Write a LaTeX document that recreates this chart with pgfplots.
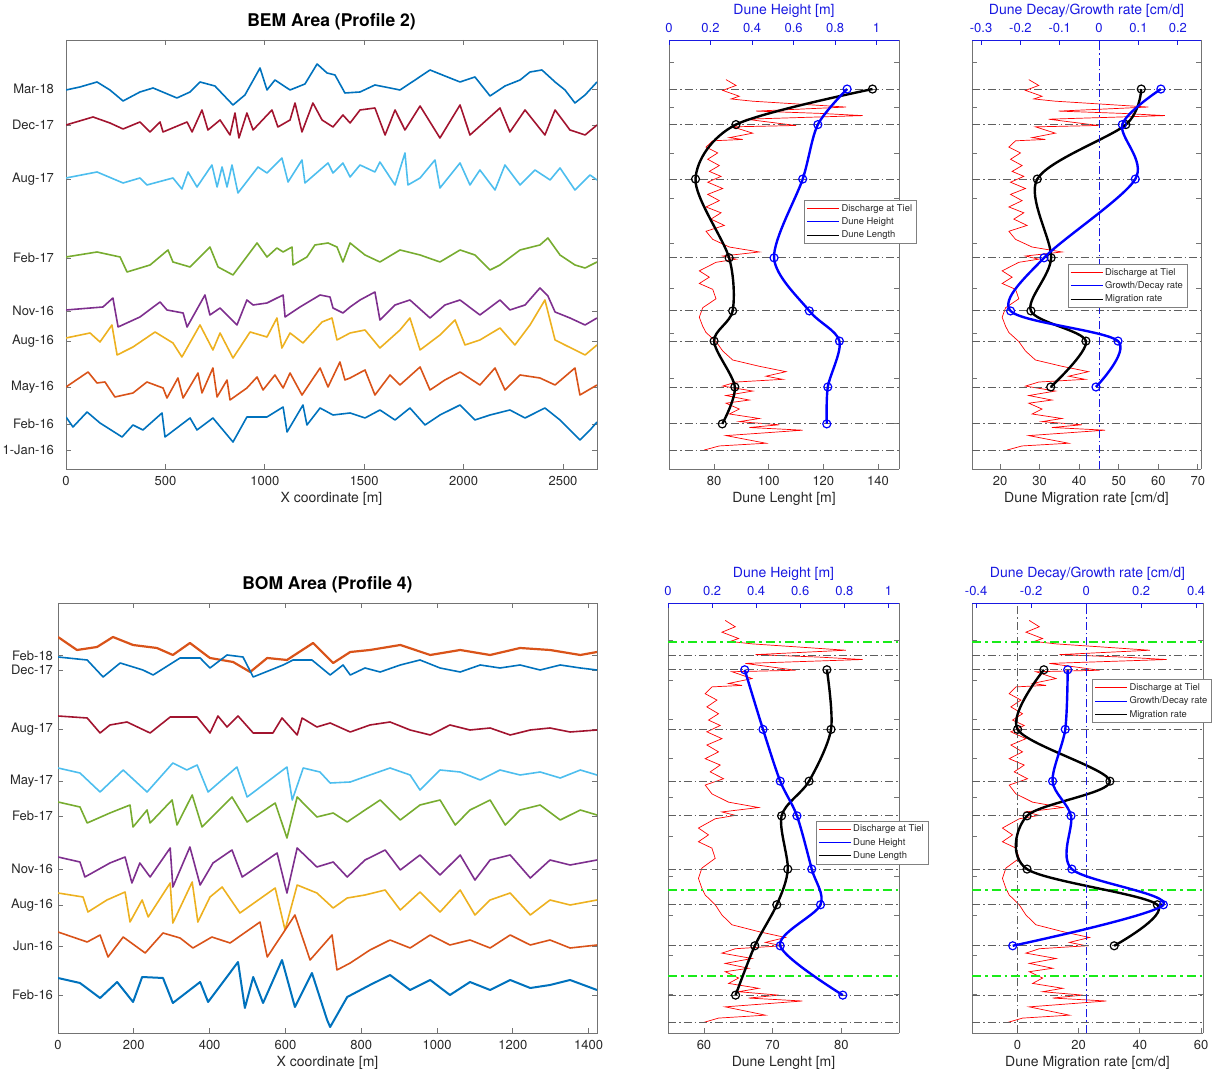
\documentclass[border=0pt]{standalone}
\usepackage{fontspec}
\setmainfont{TeX Gyre Heros}
\usepackage{pgfplots}
\pgfplotsset{compat=1.18}
\usepackage{pgfplotstable}

\definecolor{mBlue}{RGB}{0,114,189}
\definecolor{mOrange}{RGB}{217,83,25}
\definecolor{mYellow}{RGB}{237,177,32}
\definecolor{mPurple}{RGB}{126,47,142}
\definecolor{mGreen}{RGB}{119,172,48}
\definecolor{mCyan}{RGB}{77,190,238}
\definecolor{mRed}{RGB}{162,20,47}
\definecolor{axgray}{RGB}{115,115,115}
\definecolor{txtgray}{RGB}{40,40,40}
\definecolor{hgtblue}{RGB}{25,25,225}
\definecolor{dashgray}{RGB}{95,95,95}
\definecolor{flood}{RGB}{25,235,25}

% Rhine discharge at Tiel: day since 1 Jan 2016, discharge [m3/s]
\pgfplotstableread{
day Q
823 1796
810 2140
799 1683
786 2253
780 1968
775 2713
769 4200
762 5917
753 2827
748 4990
743 6491
735 2483
721 4200
718 2026
704 2713
694 1910
690 2370
687 1340
673 1110
660 1511
646 1168
632 1566
619 1223
608 1625
595 1168
581 1683
568 1168
554 1566
540 1110
527 1625
513 1281
499 1738
486 1110
468 1340
451 1910
440 2940
431 1683
424 2140
417 1453
398 879
384 1223
370 879
357 1340
336 1453
316 996
295 879
275 996
261 1110
241 1453
220 1683
200 2026
186 2940
174 3857
164 3170
157 3743
151 2140
142 1683
131 2713
121 1796
111 2597
104 1796
91 2253
80 1910
70 2940
63 2253
56 3627
50 2597
44 4430
32 1796
15 3170
9 1566
0 1051
}\discharge

\pgfplotsset{
  base/.style={
    scale only axis, anchor=south west,
    axis line style={draw=axgray, line width=0.9pt},
    tick style={draw=axgray, line width=0.9pt},
    major tick length=5pt,
    tick align=inside,
    tick label style={font=\fontsize{13}{15}\selectfont, text=txtgray},
    label style={font=\fontsize{14}{16}\selectfont, text=txtgray},
    /pgf/number format/assume math mode=true,
    /pgf/number format/1000 sep={},
  },
  botx/.style={
    xticklabel style={anchor=center, yshift=-12pt},
    xlabel style={at={(rel axis cs:0.5,0)}, anchor=center, yshift=-30pt},
  },
  topx/.style={
    axis x line*=top, axis y line=none,
    axis line style={draw=hgtblue, line width=0.9pt},
    tick style={draw=hgtblue, line width=0.9pt},
    xticklabel style={anchor=center, yshift=12pt, text=hgtblue},
    xlabel style={at={(rel axis cs:0.5,1)}, anchor=center, yshift=29pt, text=hgtblue},
  },
  leg/.style={
    legend style={font=\fontsize{9.4}{10.5}\selectfont, text=txtgray, draw=gray,
      line width=0.6pt, fill=white, inner xsep=2.5pt, inner ysep=2pt, row sep=1pt},
    legend cell align=left,
  },
  qleg/.style={legend image code/.code={\draw[draw=red, line width=0.6pt] (0pt,0pt) -- (32pt,0pt);}},
  bleg/.style={legend image code/.code={\draw[draw=blue, line width=0.8pt] (0pt,0pt) -- (32pt,0pt);}},
  kleg/.style={legend image code/.code={\draw[draw=black, line width=0.8pt] (0pt,0pt) -- (32pt,0pt);}},
  hline/.style={dashgray, line width=0.9pt, dash pattern=on 8pt off 3pt on 1.5pt off 3pt, forget plot},
  gline/.style={flood, line width=2.4pt, dash pattern=on 9pt off 4pt on 2.5pt off 4pt, forget plot},
  qline/.style={red, line width=0.7pt, forget plot},
  prof/.style={line width=1.6pt, line join=round, forget plot},
  blk/.style={black, line width=2.4pt, smooth, mark=o, mark size=4pt, mark options={line width=1.2pt, solid}},
  blu/.style={blue, line width=2.4pt, smooth, mark=o, mark size=4pt, mark options={line width=1.2pt, solid}},
}

\begin{document}
\begin{tikzpicture}
\useasboundingbox (0,0) rectangle (1214pt,1075pt);

% ---------------- BEM area, bed profiles ----------------
\begin{axis}[base, botx, at={(66pt,606pt)}, width=531pt, height=429pt,
  xmin=0, xmax=2671, ymin=0, ymax=429,
  xtick={0,500,1000,1500,2000,2500},
  ytick={19,45,82,128,158,211,290,344,380},
  yticklabels={1-Jan-16,Feb-16,May-16,Aug-16,Nov-16,Feb-17,Aug-17,Dec-17,Mar-18},
  yticklabel style={anchor=east, xshift=-8.5pt},
  title={BEM Area (Profile 2)},
  title style={at={(rel axis cs:0.5,1)}, anchor=center, yshift=12pt, font=\bfseries\fontsize{17.5}{19}\selectfont, text=black},
  xlabel={X coordinate [m]}]
\addplot[prof, mBlue] coordinates {(0,379)(70,382)(156,387)(221,379)(287,368)(372,377)(438,381)(498,376)(558,371)(624,377)(674,387)(749,383)(840,364)(900,374)(976,401)(1011,379)(1051,389)(1127,379)(1202,385)(1263,405)(1313,396)(1353,394)(1403,376)(1479,377)(1554,384)(1630,381)(1680,379)(1756,389)(1831,399)(1906,393)(1982,387)(2057,392)(2133,373)(2208,383)(2284,389)(2334,397)(2394,399)(2460,387)(2510,379)(2560,366)(2611,374)(2671,387)};
\addplot[prof, mRed] coordinates {(0,344)(136,352)(221,346)(287,340)(372,347)(423,337)(473,347)(488,337)(609,347)(634,337)(684,359)(714,339)(775,349)(825,334)(850,356)(870,331)(910,356)(941,339)(1036,359)(1066,342)(1127,349)(1152,366)(1187,337)(1242,366)(1288,349)(1343,342)(1393,354)(1429,346)(1479,359)(1554,361)(1605,334)(1655,359)(1705,339)(1781,363)(1881,331)(1982,364)(2032,334)(2183,361)(2233,337)(2309,359)(2409,334)(2460,359)(2535,339)(2611,334)(2671,344)};
\addplot[prof, mCyan] coordinates {(0,291)(156,297)(287,286)(372,291)(407,284)(538,291)(583,280)(614,297)(659,282)(734,304)(760,282)(785,302)(810,282)(835,304)(865,276)(966,302)(1011,296)(1086,311)(1117,287)(1187,309)(1202,286)(1318,306)(1343,296)(1393,306)(1429,292)(1479,304)(1554,297)(1579,307)(1655,284)(1705,316)(1720,284)(1781,291)(1856,309)(1881,281)(1982,306)(2032,284)(2082,299)(2158,279)(2208,304)(2284,284)(2359,299)(2435,289)(2485,301)(2560,279)(2636,294)(2671,289)};
\addplot[prof, mGreen] coordinates {(0,212)(156,217)(272,212)(307,197)(423,204)(513,219)(538,207)(624,202)(724,222)(765,202)(840,194)(961,226)(1011,212)(1061,221)(1092,217)(1137,222)(1142,204)(1212,212)(1252,224)(1318,226)(1363,222)(1393,207)(1429,226)(1504,214)(1579,207)(1680,219)(1781,214)(1881,207)(1982,219)(2057,214)(2133,199)(2183,204)(2284,219)(2384,224)(2424,231)(2485,214)(2560,204)(2611,201)(2671,207)};
\addplot[prof, mPurple] coordinates {(0,159)(186,162)(236,171)(262,142)(372,152)(473,167)(508,159)(589,156)(609,142)(699,174)(724,154)(775,161)(860,144)(910,169)(941,164)(1011,166)(1092,174)(1102,152)(1177,162)(1278,174)(1328,172)(1343,161)(1393,156)(1429,162)(1479,169)(1554,177)(1579,149)(1655,164)(1730,169)(1831,151)(1906,164)(1982,169)(2082,154)(2183,169)(2233,159)(2309,164)(2384,181)(2424,173)(2460,157)(2535,151)(2611,144)(2671,151)};
\addplot[prof, mYellow] coordinates {(0,131)(121,136)(171,127)(231,144)(257,114)(307,119)(337,122)(448,137)(538,126)(583,112)(674,144)(739,119)(775,136)(840,111)(926,137)(1011,132)(1061,151)(1086,121)(1127,136)(1192,126)(1288,147)(1338,151)(1363,129)(1429,136)(1504,139)(1579,121)(1680,139)(1730,151)(1781,119)(1881,134)(1957,149)(2007,124)(2082,129)(2183,141)(2258,124)(2334,144)(2409,169)(2460,129)(2510,124)(2611,114)(2671,124)};
\addplot[prof, mOrange] coordinates {(0,82)(111,97)(156,86)(196,87)(246,72)(337,76)(407,87)(488,81)(508,71)(563,91)(589,71)(664,96)(684,76)(739,101)(760,72)(810,89)(825,69)(910,81)(961,92)(991,79)(1051,94)(1092,81)(1127,96)(1187,74)(1278,101)(1318,82)(1378,107)(1403,89)(1429,91)(1504,99)(1554,74)(1630,94)(1680,84)(1781,102)(1831,79)(1906,89)(1982,97)(2082,84)(2158,101)(2208,79)(2284,94)(2384,91)(2460,84)(2560,101)(2585,74)(2671,84)};
\addplot[prof, mBlue] coordinates {(0,52)(35,42)(106,57)(171,46)(282,32)(337,44)(387,39)(483,56)(498,32)(624,51)(659,39)(739,51)(840,27)(910,52)(1011,52)(1092,62)(1112,37)(1192,64)(1212,44)(1278,61)(1343,54)(1429,56)(1504,51)(1579,59)(1655,49)(1730,61)(1806,44)(1881,54)(1982,64)(2057,49)(2133,54)(2233,59)(2309,51)(2409,61)(2485,49)(2535,39)(2585,29)(2636,39)(2671,47)};
\end{axis}

% ---------------- BEM area, dune length / height ----------------
\begin{axis}[base, at={(669pt,606pt)}, width=230pt, height=429pt, hide axis,
  xmin=-161, xmax=7737, ymin=-42.2, ymax=911]
\addplot[qline] table[x=Q, y=day] {\discharge};
\end{axis}
\begin{axis}[base, botx, at={(669pt,606pt)}, width=230pt, height=429pt,
  xmin=63.5, xmax=147.7, ymin=-42.2, ymax=911,
  axis x line*=bottom, xtick={80,100,120,140},
  ytick={60,160,260,360,460,560,660,760,860}, yticklabels={},
  xlabel={Dune Lenght [m]}]
\addplot[hline] coordinates {(63.5,0)(147.7,0)};
\addplot[hline] coordinates {(63.5,58)(147.7,58)};
\addplot[hline] coordinates {(63.5,140)(147.7,140)};
\addplot[hline] coordinates {(63.5,242)(147.7,242)};
\addplot[hline] coordinates {(63.5,309)(147.7,309)};
\addplot[hline] coordinates {(63.5,427)(147.7,427)};
\addplot[hline] coordinates {(63.5,602)(147.7,602)};
\addplot[hline] coordinates {(63.5,723)(147.7,723)};
\addplot[hline] coordinates {(63.5,802)(147.7,802)};
\addplot[blk] coordinates {(138,802)(88,723)(73.2,602)(85.5,427)(86.8,309)(80,242)(87.6,140)(83,58)};
\end{axis}
\begin{axis}[base, topx, leg, at={(669pt,606pt)}, width=230pt, height=429pt,
  xmin=0, xmax=1.108, ymin=-42.2, ymax=911,
  xtick={0,0.2,0.4,0.6,0.8,1},
  xlabel={Dune Height [m]},
  legend style={at={(rel axis cs:0.587,0.627)}, anchor=north west}]
\addplot[blu, forget plot] coordinates {(0.858,802)(0.717,723)(0.644,602)(0.506,427)(0.676,309)(0.821,242)(0.765,140)(0.76,58)};
\addlegendimage{qleg}
\addlegendimage{bleg}
\addlegendimage{kleg}
\legend{Discharge at Tiel, Dune Height, Dune Length}
\end{axis}

% ---------------- BEM area, migration / growth ----------------
\begin{axis}[base, at={(972pt,606pt)}, width=229pt, height=429pt, hide axis,
  xmin=-161, xmax=7737, ymin=-42.2, ymax=911]
\addplot[qline] table[x=Q, y=day] {\discharge};
\end{axis}
\begin{axis}[base, botx, at={(972pt,606pt)}, width=229pt, height=429pt,
  xmin=12.9, xmax=70.8, ymin=-42.2, ymax=911,
  axis x line*=bottom, xtick={20,30,40,50,60,70},
  ytick={60,160,260,360,460,560,660,760,860}, yticklabels={},
  xlabel={Dune Migration rate [cm/d]}]
\addplot[hline] coordinates {(12.9,0)(70.8,0)};
\addplot[hline] coordinates {(12.9,58)(70.8,58)};
\addplot[hline] coordinates {(12.9,140)(70.8,140)};
\addplot[hline] coordinates {(12.9,242)(70.8,242)};
\addplot[hline] coordinates {(12.9,309)(70.8,309)};
\addplot[hline] coordinates {(12.9,427)(70.8,427)};
\addplot[hline] coordinates {(12.9,602)(70.8,602)};
\addplot[hline] coordinates {(12.9,723)(70.8,723)};
\addplot[hline] coordinates {(12.9,802)(70.8,802)};
\addplot[blk] coordinates {(55.7,802)(51.8,723)(29.4,602)(32.9,427)(27.8,309)(41.7,242)(32.8,140)};
\end{axis}
\begin{axis}[base, topx, leg, at={(972pt,606pt)}, width=229pt, height=429pt,
  xmin=-0.323, xmax=0.259, ymin=-42.2, ymax=911,
  xtick={-0.3,-0.2,-0.1,0,0.1,0.2},
  xlabel={Dune Decay/Growth rate [cm/d]},
  legend style={at={(rel axis cs:0.417,0.478)}, anchor=north west}]
\addplot[hgtblue, line width=0.8pt, dash pattern=on 8pt off 3pt on 1.5pt off 3pt, forget plot] coordinates {(0,-42.2)(0,911)};
\addplot[blu, forget plot] coordinates {(0.157,802)(0.059,723)(0.092,602)(-0.14,427)(-0.225,309)(0.048,242)(-0.008,140)};
\addlegendimage{qleg}
\addlegendimage{bleg}
\addlegendimage{kleg}
\legend{Discharge at Tiel, Growth/Decay rate, Migration rate}
\end{axis}

% ---------------- BOM area, bed profiles ----------------
\begin{axis}[base, botx, at={(58pt,42pt)}, width=539pt, height=430pt,
  xmin=0, xmax=1422, ymin=0, ymax=430,
  xtick={0,200,400,600,800,1000,1200,1400},
  ytick={38,87,128,163.7,217,252,303.7,363,377.3},
  yticklabels={Feb-16,Jun-16,Aug-16,Nov-16,Feb-17,May-17,Aug-17,Dec-17,Feb-18},
  yticklabel style={anchor=east, xshift=-1.5pt},
  title={BOM Area (Profile 4)},
  title style={at={(rel axis cs:0.5,1)}, anchor=center, yshift=12pt, font=\bfseries\fontsize{17.5}{19}\selectfont, text=black},
  xlabel={X coordinate [m]}]
\addplot[prof, mOrange, line width=2.2pt] coordinates {(0,396)(50,383)(103,386)(145,396)(198,388)(261,385)(303,378)(348,390)(401,375)(462,371)(507,361)(552,375)(604,373)(673,390)(726,370)(771,381)(823,383)(903,388)(982,378)(1061,383)(1140,378)(1219,385)(1298,383)(1378,378)(1422,381)};
\addplot[prof, mBlue] coordinates {(0,376)(77,373)(119,356)(164,370)(224,363)(251,358)(322,375)(375,375)(401,365)(446,378)(488,376)(515,356)(594,368)(620,373)(670,373)(718,358)(752,368)(771,358)(810,365)(850,361)(903,368)(955,373)(1008,365)(1061,361)(1114,368)(1166,365)(1219,368)(1272,363)(1325,368)(1378,365)(1422,363)};
\addplot[prof, mRed] coordinates {(0,317)(77,315)(111,300)(137,308)(182,311)(243,300)(296,316)(367,316)(401,300)(422,317)(446,306)(475,317)(515,300)(567,300)(591,315)(631,298)(644,315)(683,306)(718,310)(771,301)(823,308)(876,311)(929,303)(982,298)(1034,308)(1087,303)(1140,305)(1193,298)(1246,303)(1298,305)(1351,301)(1422,303)};
\addplot[prof, mCyan] coordinates {(0,265)(58,260)(111,241)(172,263)(235,241)(303,270)(340,263)(367,268)(396,241)(472,266)(499,236)(604,266)(618,233)(647,265)(691,261)(718,250)(771,251)(823,258)(876,265)(929,258)(955,243)(1008,263)(1061,261)(1114,253)(1166,263)(1219,258)(1272,261)(1325,255)(1378,263)(1422,258)};
\addplot[prof, mGreen] coordinates {(0,231)(58,226)(77,210)(137,220)(190,228)(198,206)(235,223)(243,210)(301,233)(314,208)(354,238)(380,206)(459,236)(499,211)(573,230)(604,195)(631,236)(683,216)(726,220)(763,211)(810,223)(850,233)(903,213)(955,228)(1008,233)(1048,208)(1087,223)(1140,233)(1180,208)(1219,223)(1272,228)(1325,213)(1378,223)(1422,218)};
\addplot[prof, mPurple] coordinates {(0,176)(58,171)(71,156)(137,170)(177,176)(195,150)(216,170)(243,156)(296,185)(303,146)(348,186)(375,148)(409,170)(459,183)(486,156)(578,180)(604,140)(631,185)(683,166)(726,171)(763,156)(810,173)(863,183)(903,163)(955,178)(1008,158)(1061,178)(1100,153)(1140,173)(1193,178)(1246,155)(1298,173)(1351,168)(1422,173)};
\addplot[prof, mYellow] coordinates {(0,140)(66,136)(79,121)(129,133)(177,141)(190,111)(222,133)(238,116)(296,150)(303,110)(354,151)(369,111)(401,136)(433,146)(480,120)(573,145)(599,103)(631,148)(683,140)(726,125)(763,135)(810,138)(863,143)(903,123)(955,141)(1008,121)(1061,143)(1100,118)(1140,133)(1193,140)(1246,118)(1298,133)(1351,128)(1422,133)};
\addplot[prof, mOrange] coordinates {(0,101)(77,91)(111,98)(132,76)(172,96)(230,80)(277,100)(322,95)(356,85)(406,96)(454,90)(533,111)(552,76)(594,100)(625,118)(665,73)(723,98)(736,63)(771,70)(823,83)(876,93)(929,85)(982,98)(1034,88)(1087,93)(1140,85)(1193,98)(1246,88)(1298,93)(1351,85)(1422,88)};
\addplot[prof, mBlue, line width=2pt] coordinates {(0,55)(58,50)(111,35)(156,51)(198,31)(222,56)(277,55)(303,30)(375,51)(396,31)(475,71)(493,25)(515,56)(541,30)(591,73)(625,26)(670,60)(710,13)(718,6)(763,36)(823,48)(876,58)(929,43)(982,53)(1034,38)(1087,51)(1140,43)(1193,53)(1246,45)(1298,48)(1351,53)(1422,43)};
\end{axis}

% ---------------- BOM area, dune length / height ----------------
\begin{axis}[base, at={(668pt,42pt)}, width=231pt, height=430pt, hide axis,
  xmin=-161, xmax=7737, ymin=-21.5, ymax=858.7]
\addplot[qline] table[x=Q, y=day] {\discharge};
\end{axis}
\begin{axis}[base, botx, at={(668pt,42pt)}, width=231pt, height=430pt,
  xmin=54.76, xmax=88.4, ymin=-21.5, ymax=858.7,
  axis x line*=bottom, xtick={60,70,80},
  ytick={58,138,219,299,380,460,540,621,701,782}, yticklabels={},
  xlabel={Dune Lenght [m]}]
\addplot[hline] coordinates {(54.76,0)(88.4,0)};
\addplot[hline] coordinates {(54.76,56)(88.4,56)};
\addplot[hline] coordinates {(54.76,157)(88.4,157)};
\addplot[hline] coordinates {(54.76,241)(88.4,241)};
\addplot[hline] coordinates {(54.76,314)(88.4,314)};
\addplot[hline] coordinates {(54.76,423)(88.4,423)};
\addplot[hline] coordinates {(54.76,494)(88.4,494)};
\addplot[hline] coordinates {(54.76,600)(88.4,600)};
\addplot[hline] coordinates {(54.76,722)(88.4,722)};
\addplot[hline] coordinates {(54.76,751)(88.4,751)};
\addplot[gline] coordinates {(54.76,95)(88.4,95)};
\addplot[gline] coordinates {(54.76,271)(88.4,271)};
\addplot[gline] coordinates {(54.76,779)(88.4,779)};
\addplot[blk] coordinates {(77.9,722)(78.5,600)(75.3,494)(71.3,423)(72.2,314)(70.6,241)(67.4,157)(64.6,56)};
\end{axis}
\begin{axis}[base, topx, leg, at={(668pt,42pt)}, width=231pt, height=430pt,
  xmin=0, xmax=1.048, ymin=-21.5, ymax=858.7,
  xtick={0,0.2,0.4,0.6,0.8,1},
  xlabel={Dune Height [m]},
  legend style={at={(rel axis cs:0.639,0.494)}, anchor=north west}]
\addplot[blu, forget plot] coordinates {(0.348,722)(0.431,600)(0.509,494)(0.585,423)(0.652,314)(0.692,241)(0.509,157)(0.793,56)};
\addlegendimage{qleg}
\addlegendimage{bleg}
\addlegendimage{kleg}
\legend{Discharge at Tiel, Dune Height, Dune Length}
\end{axis}

% ---------------- BOM area, migration / growth ----------------
\begin{axis}[base, at={(972pt,42pt)}, width=231pt, height=430pt, hide axis,
  xmin=-161, xmax=7737, ymin=-21.5, ymax=858.7]
\addplot[qline] table[x=Q, y=day] {\discharge};
\end{axis}
\begin{axis}[base, botx, at={(972pt,42pt)}, width=231pt, height=430pt,
  xmin=-14.9, xmax=60.65, ymin=-21.5, ymax=858.7,
  axis x line*=bottom, xtick={0,20,40,60},
  ytick={58,138,219,299,380,460,540,621,701,782}, yticklabels={},
  xlabel={Dune Migration rate [cm/d]}]
\addplot[hline] coordinates {(-14.9,0)(60.65,0)};
\addplot[hline] coordinates {(-14.9,56)(60.65,56)};
\addplot[hline] coordinates {(-14.9,157)(60.65,157)};
\addplot[hline] coordinates {(-14.9,241)(60.65,241)};
\addplot[hline] coordinates {(-14.9,314)(60.65,314)};
\addplot[hline] coordinates {(-14.9,423)(60.65,423)};
\addplot[hline] coordinates {(-14.9,494)(60.65,494)};
\addplot[hline] coordinates {(-14.9,600)(60.65,600)};
\addplot[hline] coordinates {(-14.9,722)(60.65,722)};
\addplot[hline] coordinates {(-14.9,751)(60.65,751)};
\addplot[hline] coordinates {(0,-21.5)(0,858.7)};
\addplot[gline] coordinates {(-14.9,95)(60.65,95)};
\addplot[gline] coordinates {(-14.9,271)(60.65,271)};
\addplot[gline] coordinates {(-14.9,779)(60.65,779)};
\addplot[blk] coordinates {(8.6,722)(0,600)(30.2,494)(3.1,423)(3.1,314)(45.7,241)(31.6,157)};
\end{axis}
\begin{axis}[base, topx, leg, at={(972pt,42pt)}, width=231pt, height=430pt,
  xmin=-0.415, xmax=0.425, ymin=-21.5, ymax=858.7,
  xtick={-0.4,-0.2,0,0.2,0.4},
  xlabel={Dune Decay/Growth rate [cm/d]},
  legend style={at={(rel axis cs:0.519,0.823)}, anchor=north west}]
\addplot[hgtblue, line width=0.8pt, dash pattern=on 8pt off 3pt on 1.5pt off 3pt, forget plot] coordinates {(0,-21.5)(0,858.7)};
\addplot[blu, forget plot] coordinates {(-0.067,722)(-0.076,600)(-0.122,494)(-0.055,423)(-0.052,314)(0.281,241)(-0.267,157)};
\addlegendimage{qleg}
\addlegendimage{bleg}
\addlegendimage{kleg}
\legend{Discharge at Tiel, Growth/Decay rate, Migration rate}
\end{axis}
\end{tikzpicture}
\end{document}
